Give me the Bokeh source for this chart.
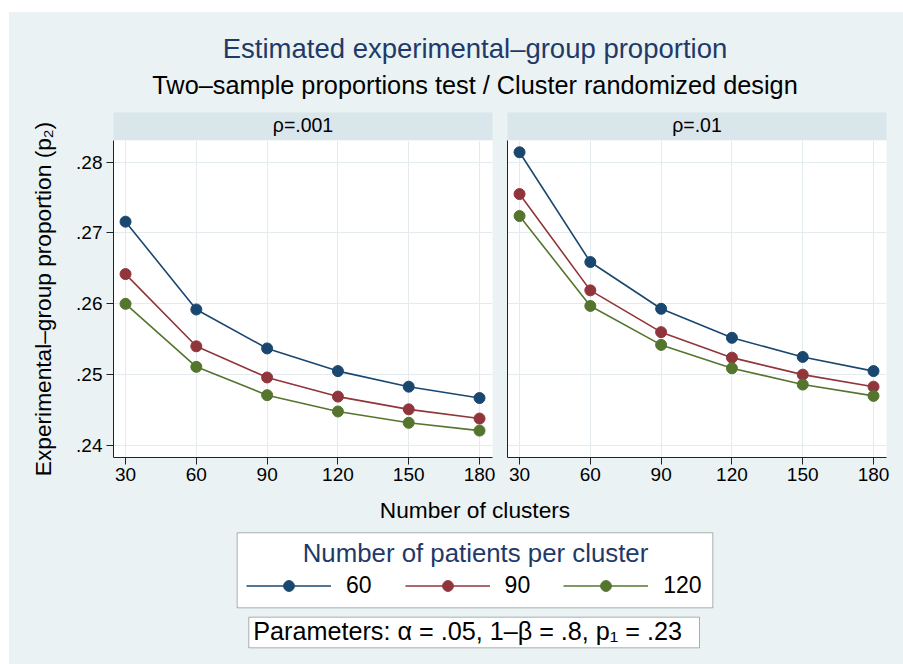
import math
from bokeh.plotting import figure
from bokeh.models import (Range1d, Label, Legend, LegendItem, FixedTicker,
                          BoxAnnotation, Spacer, CustomJSTickFormatter)
from bokeh.layouts import column, row
from bokeh.core.properties import value
from bokeh.embed import file_html
from bokeh.resources import INLINE

# ---------------- data ----------------
clusters = [30, 60, 90, 120, 150, 180]
rho_labels = ["ρ=.001", "ρ=.01"]
patients_per_cluster = ["60", "90", "120"]

p2_rho001_m60 = [0.2716, 0.2592, 0.2537, 0.2505, 0.2483, 0.2467]
p2_rho001_m90 = [0.2642, 0.2540, 0.2496, 0.2469, 0.2451, 0.2438]
p2_rho001_m120 = [0.2600, 0.2511, 0.2471, 0.2448, 0.2432, 0.2421]

p2_rho01_m60 = [0.2814, 0.2659, 0.2593, 0.2552, 0.2525, 0.2505]
p2_rho01_m90 = [0.2755, 0.2619, 0.2560, 0.2524, 0.2500, 0.2483]
p2_rho01_m120 = [0.2724, 0.2597, 0.2542, 0.2509, 0.2486, 0.2470]

y_ticks = [0.24, 0.25, 0.26, 0.27, 0.28]
x_ticks = [30, 60, 90, 120, 150, 180]

title_text = "Estimated experimental–group proportion"
subtitle_text = "Two–sample proportions test / Cluster randomized design"
y_title = "Experimental–group proportion (p₂)"
x_title = "Number of clusters"
legend_title = "Number of patients per cluster"
params_text = "Parameters: α = .05, 1–β = .8, p₁ = .23"

# ---------------- style ----------------
FONT = "Liberation Sans"
BG = "#EAF2F3"
STRIP = "#D9E6EB"
GRID = "#E3EBEE"
TITLE_C = "#1F3A68"
AXIS_C = "#222222"
colors = ["#1A476F", "#90353B", "#55752F"]

W = 894              # width of the graph region (page has 9px white at left)
YLAB_W = 51
LEFT_W, RIGHT_W = 440, 403
MID_H = 378          # strip (28) + panel (350)
PANEL_H = 350


def blank_fig(width, height, xr, yr, **kw):
    p = figure(width=width, height=height, x_range=xr, y_range=yr,
               x_axis_location=None, y_axis_location=None,
               toolbar_location=None, output_backend="svg", **kw)
    p.background_fill_color = BG
    p.border_fill_color = BG
    p.outline_line_color = None
    p.grid.visible = False
    return p


def text_label(x, y, text, size, color="black", align="center", angle=0):
    return Label(x=x, y=y, text=text, text_align=align, text_baseline="middle",
                 text_font=FONT, text_font_size=size, text_color=color,
                 angle=angle)


# ---------------- titles ----------------
title_fig = blank_fig(W, 100, Range1d(0, W), Range1d(0, 100), min_border=0)
title_fig.add_layout(text_label(465.5, 64.2, title_text, "27.5px", TITLE_C))
title_fig.add_layout(text_label(465.5, 27.6, subtitle_text, "25.3px"))

# ---------------- y-axis title ----------------
ylab_fig = blank_fig(YLAB_W, MID_H, Range1d(0, YLAB_W), Range1d(0, MID_H), min_border=0)
ylab_fig.add_layout(text_label(33, 191.5, y_title, "22.7px", angle=math.pi / 2))


# ---------------- strips ----------------
def strip_fig(text, width, left, right):
    s = blank_fig(width, 28, Range1d(0, 1), Range1d(0, 1),
                  min_border_left=left, min_border_right=right,
                  min_border_top=0, min_border_bottom=0)
    s.background_fill_color = STRIP
    s.add_layout(text_label(0.5, 0.56, text, "19.5px"))
    return s


# ---------------- panels ----------------
def panel_fig(width, left, right, series, show_y):
    p = figure(width=width, height=PANEL_H,
               x_range=Range1d(24.9, 185.5), y_range=Range1d(0.2383, 0.28306),
               min_border_left=left, min_border_right=right,
               min_border_top=0, min_border_bottom=33,
               toolbar_location=None, output_backend="svg")
    p.background_fill_color = "white"
    p.border_fill_color = BG
    p.outline_line_color = None

    p.xgrid.ticker = FixedTicker(ticks=x_ticks)
    p.ygrid.ticker = FixedTicker(ticks=y_ticks)
    p.grid.grid_line_color = GRID
    p.grid.grid_line_width = 1

    for vals, c in zip(series, colors):
        p.line(clusters, vals, line_color=c, line_width=1.6)
        p.scatter(clusters, vals, size=11, fill_color=c, line_color=c)

    xa = p.xaxis[0]
    xa.ticker = FixedTicker(ticks=x_ticks)
    xa.major_label_text_font = FONT
    xa.major_label_text_font_size = "19px"
    xa.major_label_text_color = "black"
    xa.major_tick_in = 0
    xa.major_tick_out = 7
    xa.minor_tick_line_color = None
    xa.major_tick_line_color = AXIS_C
    xa.axis_line_color = AXIS_C
    xa.major_label_standoff = 3

    ya = p.yaxis[0]
    ya.axis_line_color = AXIS_C
    ya.minor_tick_line_color = None
    if show_y:
        ya.ticker = FixedTicker(ticks=y_ticks)
        ya.formatter = CustomJSTickFormatter(
            code="return tick.toFixed(2).replace(/^0/, '');")
        ya.major_label_text_font = FONT
        ya.major_label_text_font_size = "19px"
        ya.major_label_text_color = "black"
        ya.major_tick_in = 0
        ya.major_tick_out = 7
        ya.major_tick_line_color = AXIS_C
        ya.major_label_standoff = 4
    else:
        ya.ticker = FixedTicker(ticks=[])
        ya.major_tick_in = 0
        ya.major_tick_out = 0
        ya.major_label_standoff = 0
    return p


strip_l = strip_fig(rho_labels[0], LEFT_W, 53, 8)
strip_r = strip_fig(rho_labels[1], RIGHT_W, 7, 17)
panel_l = panel_fig(LEFT_W, 53, 8, [p2_rho001_m60, p2_rho001_m90, p2_rho001_m120], True)
panel_r = panel_fig(RIGHT_W, 7, 17, [p2_rho01_m60, p2_rho01_m90, p2_rho01_m120], False)

# ---------------- bottom: x title, legend, parameters ----------------
BH = 174
bot = blank_fig(W, BH, Range1d(0, W), Range1d(0, BH), min_border=0)
bot.add_layout(text_label(465.5, 155, x_title, "22.7px"))
bot.add_layout(BoxAnnotation(left=227.7, right=703.3, bottom=56.7, top=131.7,
                             fill_color="white", fill_alpha=1,
                             line_color="black", line_width=1))
bot.add_layout(text_label(466, 111.3, legend_title, "25.8px", TITLE_C))

items = []
nan = float("nan")
for lab, c in zip(patients_per_cluster, colors):
    lr = bot.line(x=[nan], y=[nan], line_color=c, line_width=1.6)
    sr = bot.scatter(x=[nan], y=[nan], size=11, fill_color=c, line_color=c)
    items.append(LegendItem(label=value(lab), renderers=[lr, sr]))

legend = Legend(items=items, orientation="horizontal", location=(237, 64.8),
                glyph_width=85, glyph_height=27, label_height=27,
                label_standoff=15, spacing=33, padding=0, margin=0,
                border_line_color=None, background_fill_alpha=0,
                label_text_font=FONT, label_text_font_size="23px",
                label_text_color="black")
bot.add_layout(legend)

bot.add_layout(BoxAnnotation(left=239.3, right=690, bottom=16.7, top=47.3,
                             fill_color="white", fill_alpha=1,
                             line_color="black", line_width=1))
bot.add_layout(text_label(243.7, 33.5, params_text, "25.2px", align="left"))

mid_row = row(ylab_fig, column(strip_l, panel_l), column(strip_r, panel_r),
              styles={"background-color": BG})
graph = column(
    Spacer(width=W, height=12),
    title_fig,
    mid_row,
    bot,
)
graph.children[1].styles = {"background-color": BG}
bot.styles = {"background-color": BG}

layout = row(Spacer(width=9, height=664), graph)

open("out.html", "w").write(file_html(layout, INLINE))
